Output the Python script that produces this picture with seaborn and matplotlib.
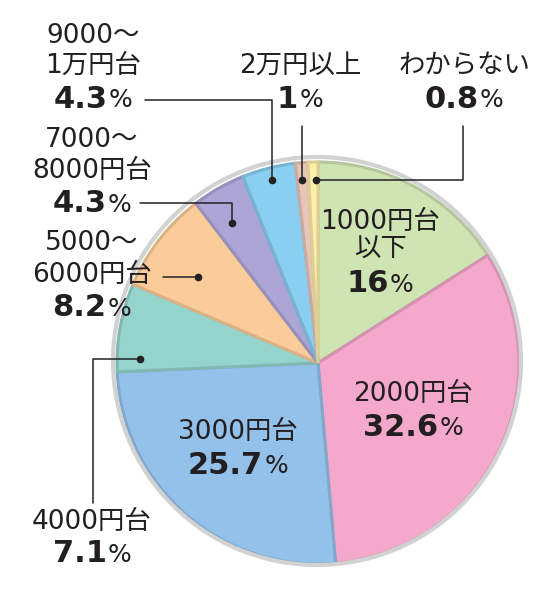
import matplotlib
matplotlib.use('Agg')
import matplotlib.pyplot as plt
import matplotlib.colors as mcolors
import seaborn as sns
import numpy as np

# data
categories = ['1000円台以下', '2000円台', '3000円台', '4000円台', '5000～6000円台',
              '7000～8000円台', '9000～1万円台', '2万円以上', 'わからない']
shares = [16, 32.6, 25.7, 7.1, 8.2, 4.3, 4.3, 1, 0.8]
share_text = ['16', '32.6', '25.7', '7.1', '8.2', '4.3', '4.3', '1', '0.8']
name_lines = ['1000円台\n以下', '2000円台', '3000円台', '4000円台', '5000～\n6000円台',
              '7000～\n8000円台', '9000～\n1万円台', '2万円以上', 'わからない']
slice_colors = ['#cfe4b3', '#f4a8cb', '#93c1ea', '#95d4cd', '#fccb9a',
                '#ada5d6', '#88cff1', '#e9c5b9', '#fdeeaa']

sns.set_theme(style='white')
plt.rcParams['font.family'] = ['Noto Sans CJK JP', 'DejaVu Sans']
REG_FAMILY = ['DejaVu Sans', 'Noto Sans CJK JP']

W, H = 557, 604
fig = plt.figure(figsize=(W / 100, H / 100), dpi=100)
ax = fig.add_axes([0, 0, 1, 1])


def Y(py):
    return H - py


# pie
cx, cy, r = 318, 363, 201
wedges, _ = ax.pie(shares, colors=slice_colors, startangle=90, counterclock=False,
                   center=(cx, Y(cy)), radius=r,
                   wedgeprops=dict(linewidth=2.2))
for w, c in zip(wedges, slice_colors):
    rgb = np.array(mcolors.to_rgb(c)) * 0.87
    w.set_edgecolor(rgb)

ring = plt.Circle((317, Y(361)), 204, fill=False, edgecolor='#d2d2d2', linewidth=3, zorder=3)
ax.add_patch(ring)

ax.set_xlim(0, W)
ax.set_ylim(0, H)
ax.set_aspect('equal')
ax.axis('off')

txt_col = '#231f20'
reg = 19
bold = 22

fig.canvas.draw()
renderer = fig.canvas.get_renderer()


def pct(x, y, s):
    # bold number and regular % centred at (x, y)
    t1 = ax.text(0, 0, s, fontsize=bold, fontweight='bold', family='DejaVu Sans',
                 color=txt_col, va='center', ha='left')
    t2 = ax.text(0, 0, '%', fontsize=reg - 1, family=REG_FAMILY, color=txt_col,
                 va='center', ha='left')
    w1 = t1.get_window_extent(renderer).width
    w2 = t2.get_window_extent(renderer).width
    left = x - (w1 + w2 + 1) / 2
    t1.set_position((left, Y(y)))
    t2.set_position((left + w1 + 1, Y(y + 1)))


def label(x, ys, lines, num):
    for yy, ln in zip(ys[:-1], lines.split('\n')):
        ax.text(x, Y(yy), ln, fontsize=reg, family=REG_FAMILY, color=txt_col,
                ha='center', va='center')
    pct(x, ys[-1], num)


# inner labels
label(380, [222, 250, 284], name_lines[0], share_text[0])
label(413, [394, 427], name_lines[1], share_text[1])
label(238, [432, 465], name_lines[2], share_text[2])

# outer labels
label(92, [522, 554], name_lines[3], share_text[3])
label(92, [243, 275, 308], name_lines[4], share_text[4])
label(92, [140, 171, 204], name_lines[5], share_text[5])
label(93, [36, 66, 99], name_lines[6], share_text[6])
label(300, [66, 99], name_lines[7], share_text[7])
label(464, [66, 99], name_lines[8], share_text[8])

# leader lines
lk = dict(color='#222222', linewidth=1.1, zorder=5)
leaders = [
    [(140, 359), (93, 359), (93, 503)],
    [(198, 277), (163, 277)],
    [(232, 223), (232, 203), (140, 203)],
    [(272, 180), (272, 100), (145, 100)],
    [(302, 180), (302, 126)],
    [(316, 180), (463, 180), (463, 126)],
]
for pts in leaders:
    xs = [p[0] for p in pts]
    ys = [Y(p[1]) for p in pts]
    ax.plot(xs, ys, **lk)
    ax.plot(xs[0], ys[0], 'o', color='#222222', markersize=4.5, zorder=6)

fig.savefig('out.png', dpi=100)
